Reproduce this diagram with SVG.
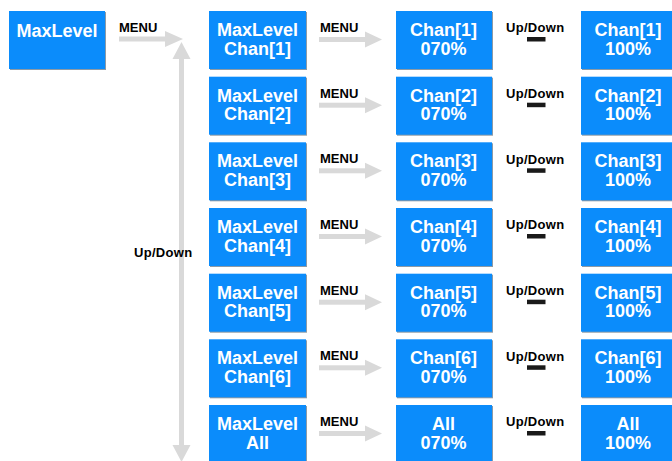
<svg xmlns="http://www.w3.org/2000/svg" width="672" height="461" viewBox="0 0 672 461">
<defs>
<style>
.box{fill:#0b8cfb}
.sh{fill:#8c9aa6}
.bt{fill:#fff;font-family:"Liberation Sans",Arial,sans-serif;font-weight:bold;font-size:18px;text-anchor:middle}
.lb{fill:#000;font-family:"Liberation Sans",Arial,sans-serif;font-weight:bold;font-size:13px}
.ud{fill:#000;font-family:"Liberation Sans",Arial,sans-serif;font-weight:bold;font-size:13px;letter-spacing:0.3px}
.ar{fill:#d9d9d9}
.bar{fill:#1a1a1a}
</style>
<g id="arrowR"><rect x="0" y="-2.5" width="46" height="5" class="ar"/><polygon points="46,-8 63,0 46,8" class="ar"/></g>
</defs>
<rect width="672" height="461" fill="#fff"/>

<g id="connectors">
<rect x="119" y="36.5" width="47" height="5" class="ar"/>
<polygon points="165,31 183,39 165,47" class="ar"/>
<rect x="179" y="58" width="5" height="390" class="ar"/>
<polygon points="172.5,59 181.5,42 190.5,59" class="ar"/>
<polygon points="172.5,445 181.5,462 190.5,445" class="ar"/>
<use href="#arrowR" x="319" y="39.5"/>
<use href="#arrowR" x="319" y="105.2"/>
<use href="#arrowR" x="319" y="170.8"/>
<use href="#arrowR" x="319" y="236.5"/>
<use href="#arrowR" x="319" y="302.2"/>
<use href="#arrowR" x="319" y="367.8"/>
<use href="#arrowR" x="319" y="433.5"/>
</g>

<g id="labels">
<text class="lb" x="119" y="32">MENU</text>
<text class="ud" x="134" y="257">Up/Down</text>
<text class="lb" x="320" y="32">MENU</text>
<text class="lb" x="320" y="97.7">MENU</text>
<text class="lb" x="320" y="163.3">MENU</text>
<text class="lb" x="320" y="229">MENU</text>
<text class="lb" x="320" y="294.7">MENU</text>
<text class="lb" x="320" y="360.3">MENU</text>
<text class="lb" x="320" y="426">MENU</text>
<g id="ud1"><text class="ud" x="506" y="32.3">Up/Down</text><rect class="bar" x="527" y="37" width="18.5" height="4.5"/></g>
<g id="ud2"><text class="ud" x="506" y="98">Up/Down</text><rect class="bar" x="527" y="102.7" width="18.5" height="4.5"/></g>
<g id="ud3"><text class="ud" x="506" y="163.6">Up/Down</text><rect class="bar" x="527" y="168.3" width="18.5" height="4.5"/></g>
<g id="ud4"><text class="ud" x="506" y="229.3">Up/Down</text><rect class="bar" x="527" y="234" width="18.5" height="4.5"/></g>
<g id="ud5"><text class="ud" x="506" y="295">Up/Down</text><rect class="bar" x="527" y="299.7" width="18.5" height="4.5"/></g>
<g id="ud6"><text class="ud" x="506" y="360.6">Up/Down</text><rect class="bar" x="527" y="365.3" width="18.5" height="4.5"/></g>
<g id="ud7"><text class="ud" x="506" y="426.3">Up/Down</text><rect class="bar" x="527" y="431" width="18.5" height="4.5"/></g>
</g>

<g id="n-maxlevel"><rect class="sh" x="10" y="12" width="96" height="58"/><rect class="box" x="9" y="11" width="96" height="58"/><text class="bt" x="57" y="37">MaxLevel</text></g>

<g id="n-ml1"><rect class="sh" x="210" y="12" width="97" height="58"/><rect class="box" x="209" y="11" width="97" height="58"/><text class="bt" x="257.5" y="36">MaxLevel</text><text class="bt" x="257.5" y="54.5">Chan[1]</text></g>
<g id="n-ml2"><rect class="sh" x="210" y="77.7" width="97" height="58"/><rect class="box" x="209" y="76.7" width="97" height="58"/><text class="bt" x="257.5" y="101.7">MaxLevel</text><text class="bt" x="257.5" y="120.2">Chan[2]</text></g>
<g id="n-ml3"><rect class="sh" x="210" y="143.3" width="97" height="58"/><rect class="box" x="209" y="142.3" width="97" height="58"/><text class="bt" x="257.5" y="167.3">MaxLevel</text><text class="bt" x="257.5" y="185.8">Chan[3]</text></g>
<g id="n-ml4"><rect class="sh" x="210" y="209" width="97" height="58"/><rect class="box" x="209" y="208" width="97" height="58"/><text class="bt" x="257.5" y="233">MaxLevel</text><text class="bt" x="257.5" y="251.5">Chan[4]</text></g>
<g id="n-ml5"><rect class="sh" x="210" y="274.7" width="97" height="58"/><rect class="box" x="209" y="273.7" width="97" height="58"/><text class="bt" x="257.5" y="298.7">MaxLevel</text><text class="bt" x="257.5" y="317.2">Chan[5]</text></g>
<g id="n-ml6"><rect class="sh" x="210" y="340.3" width="97" height="58"/><rect class="box" x="209" y="339.3" width="97" height="58"/><text class="bt" x="257.5" y="364.3">MaxLevel</text><text class="bt" x="257.5" y="382.8">Chan[6]</text></g>
<g id="n-mlall"><rect class="sh" x="210" y="406" width="97" height="58"/><rect class="box" x="209" y="405" width="97" height="58"/><text class="bt" x="257.5" y="430">MaxLevel</text><text class="bt" x="257.5" y="448.5">All</text></g>

<g id="n-c1"><rect class="sh" x="397" y="12" width="96" height="58"/><rect class="box" x="396" y="11" width="96" height="58"/><text class="bt" x="443.5" y="36">Chan[1]</text><text class="bt" x="443.5" y="54.5">070%</text></g>
<g id="n-c2"><rect class="sh" x="397" y="77.7" width="96" height="58"/><rect class="box" x="396" y="76.7" width="96" height="58"/><text class="bt" x="443.5" y="101.7">Chan[2]</text><text class="bt" x="443.5" y="120.2">070%</text></g>
<g id="n-c3"><rect class="sh" x="397" y="143.3" width="96" height="58"/><rect class="box" x="396" y="142.3" width="96" height="58"/><text class="bt" x="443.5" y="167.3">Chan[3]</text><text class="bt" x="443.5" y="185.8">070%</text></g>
<g id="n-c4"><rect class="sh" x="397" y="209" width="96" height="58"/><rect class="box" x="396" y="208" width="96" height="58"/><text class="bt" x="443.5" y="233">Chan[4]</text><text class="bt" x="443.5" y="251.5">070%</text></g>
<g id="n-c5"><rect class="sh" x="397" y="274.7" width="96" height="58"/><rect class="box" x="396" y="273.7" width="96" height="58"/><text class="bt" x="443.5" y="298.7">Chan[5]</text><text class="bt" x="443.5" y="317.2">070%</text></g>
<g id="n-c6"><rect class="sh" x="397" y="340.3" width="96" height="58"/><rect class="box" x="396" y="339.3" width="96" height="58"/><text class="bt" x="443.5" y="364.3">Chan[6]</text><text class="bt" x="443.5" y="382.8">070%</text></g>
<g id="n-call"><rect class="sh" x="397" y="406" width="96" height="58"/><rect class="box" x="396" y="405" width="96" height="58"/><text class="bt" x="443.5" y="430">All</text><text class="bt" x="443.5" y="448.5">070%</text></g>

<g id="n-d1"><rect class="sh" x="582" y="12" width="97" height="58"/><rect class="box" x="581" y="11" width="97" height="58"/><text class="bt" x="628" y="36">Chan[1]</text><text class="bt" x="628" y="54.5">100%</text></g>
<g id="n-d2"><rect class="sh" x="582" y="77.7" width="97" height="58"/><rect class="box" x="581" y="76.7" width="97" height="58"/><text class="bt" x="628" y="101.7">Chan[2]</text><text class="bt" x="628" y="120.2">100%</text></g>
<g id="n-d3"><rect class="sh" x="582" y="143.3" width="97" height="58"/><rect class="box" x="581" y="142.3" width="97" height="58"/><text class="bt" x="628" y="167.3">Chan[3]</text><text class="bt" x="628" y="185.8">100%</text></g>
<g id="n-d4"><rect class="sh" x="582" y="209" width="97" height="58"/><rect class="box" x="581" y="208" width="97" height="58"/><text class="bt" x="628" y="233">Chan[4]</text><text class="bt" x="628" y="251.5">100%</text></g>
<g id="n-d5"><rect class="sh" x="582" y="274.7" width="97" height="58"/><rect class="box" x="581" y="273.7" width="97" height="58"/><text class="bt" x="628" y="298.7">Chan[5]</text><text class="bt" x="628" y="317.2">100%</text></g>
<g id="n-d6"><rect class="sh" x="582" y="340.3" width="97" height="58"/><rect class="box" x="581" y="339.3" width="97" height="58"/><text class="bt" x="628" y="364.3">Chan[6]</text><text class="bt" x="628" y="382.8">100%</text></g>
<g id="n-dall"><rect class="sh" x="582" y="406" width="97" height="58"/><rect class="box" x="581" y="405" width="97" height="58"/><text class="bt" x="628" y="430">All</text><text class="bt" x="628" y="448.5">100%</text></g>
</svg>
